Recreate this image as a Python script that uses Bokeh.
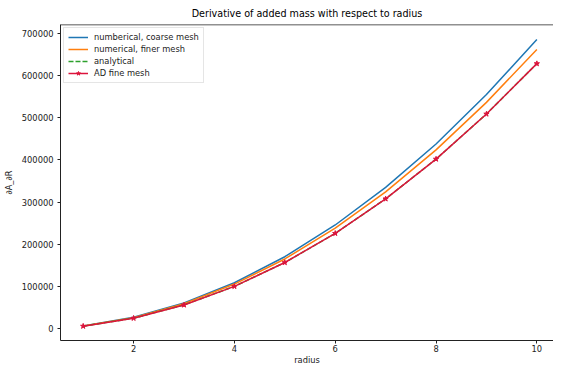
from bokeh.plotting import figure
from bokeh.models import Span, FixedTicker, BasicTickFormatter, Range1d, Legend
from bokeh.embed import file_html
from bokeh.resources import INLINE

radius = [1, 2, 3, 4, 5, 6, 7, 8, 9, 10]
coarse = [6800, 27300, 61300, 109200, 170800, 246000, 335000, 438000, 555000, 685500]
finer = [6620, 26500, 59600, 106000, 165500, 238400, 324500, 424000, 536500, 662000]
analytical = [6283, 25133, 56549, 100531, 157080, 226195, 307876, 402124, 508938, 628318]
ad_fine = [6283, 25133, 56549, 100531, 157080, 226195, 307876, 402124, 508938, 628318]
y_ticks = [0, 100000, 200000, 300000, 400000, 500000, 600000, 700000]
x_ticks = [2, 4, 6, 8, 10]

FONT = "DejaVu Sans"

p = figure(width=553, height=367, output_backend="svg", toolbar_location=None,
           title="Derivative of added mass with respect to radius",
           x_range=Range1d(0.55, 10.33), y_range=Range1d(-27700, 721000),
           min_border_right=0, min_border_left=0, min_border_top=0, min_border_bottom=0)

p.title.text_font = FONT
p.title.text_font_size = "9.6px"
p.title.text_font_style = "normal"
p.title.align = "center"
p.title.text_color = "black"
p.title.standoff = 11
p.title.offset = 0

p.outline_line_color = None
p.xgrid.visible = False
p.ygrid.visible = False

for ax in (p.xaxis[0], p.yaxis[0]):
    ax.axis_line_color = "#222222"
    ax.major_tick_line_color = "#222222"
    ax.major_tick_out = 3
    ax.major_tick_in = 0
    ax.minor_tick_line_color = None
    ax.major_label_text_font = FONT
    ax.major_label_text_font_size = "8.3px"
    ax.major_label_text_color = "#222222"
    ax.axis_label_text_font = FONT
    ax.axis_label_text_font_size = "8.3px"
    ax.axis_label_text_font_style = "normal"
    ax.axis_label_text_color = "#222222"

p.xaxis.major_label_text_line_height = 0.4
p.xaxis.axis_label_text_line_height = 0.4
p.xaxis.major_label_standoff = 1
p.xaxis.axis_label_standoff = 0
p.yaxis.major_label_standoff = 4
p.yaxis.axis_label_standoff = 5
p.xaxis.axis_label = "radius"
p.yaxis.axis_label = "∂A_∂R"
p.xaxis.ticker = FixedTicker(ticks=x_ticks)
p.yaxis.ticker = FixedTicker(ticks=y_ticks)
p.yaxis.formatter = BasicTickFormatter(use_scientific=False)

top = Span(location=721000, dimension="width", line_color="#222222", line_width=1.5)
p.add_layout(top)

r1 = p.line(radius, coarse, line_color="#1f77b4", line_width=1.5)
r2 = p.line(radius, finer, line_color="#ff7f0e", line_width=1.5)
r3 = p.line(radius, analytical, line_color="#2ca02c", line_width=1.5, line_dash="5 2")
r4 = p.line(radius, ad_fine, line_color="crimson", line_width=1.5)
r5 = p.scatter(radius, ad_fine, marker="star", size=5.5, color="crimson")

legend = Legend(items=[("numberical, coarse mesh", [r1]),
                       ("numerical, finer mesh", [r2]),
                       ("analytical", [r3]),
                       ("AD fine mesh", [r4, r5])],
                location="top_left")
legend.label_text_font = FONT
legend.label_text_font_size = "8.3px"
legend.label_text_color = "#222222"
legend.glyph_width = 20
legend.glyph_height = 10
legend.label_height = 10
legend.spacing = 2
legend.padding = 4
legend.margin = 3
legend.border_line_color = "#cccccc"
legend.border_line_width = 1
legend.label_standoff = 6
p.add_layout(legend)

open("out.html", "w").write(file_html(p, INLINE))
